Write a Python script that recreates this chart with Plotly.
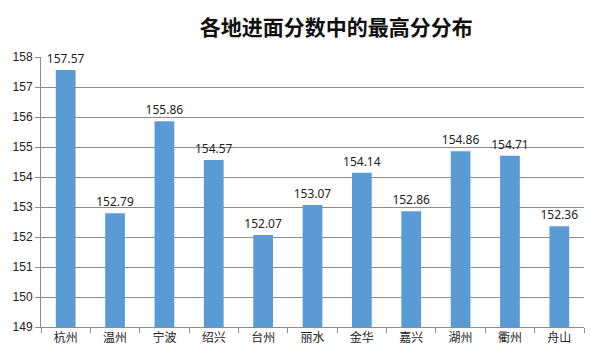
import plotly.graph_objects as go

cities = ["杭州", "温州", "宁波", "绍兴", "台州", "丽水", "金华", "嘉兴", "湖州", "衢州", "舟山"]
scores = [157.57, 152.79, 155.86, 154.57, 152.07, 153.07, 154.14, 152.86, 154.86, 154.71, 152.36]
y_ticks = list(range(149, 159))

fig = go.Figure(go.Bar(
    x=cities, y=scores,
    marker=dict(color="#5B9BD5", line=dict(width=0)),
    text=[f"{v:.2f}" for v in scores],
    textposition="outside",
    constraintext="none",
    textfont=dict(family="Noto Sans, Liberation Sans, sans-serif", size=12, color="#222"),
    cliponaxis=False,
    hoverinfo="skip",
))

fig.update_layout(
    width=591, height=362,
    margin=dict(l=41, r=7, t=57, b=35, autoexpand=False),
    paper_bgcolor="white", plot_bgcolor="white",
    bargap=0.6,
    showlegend=False,
    title=dict(text="<b>各地进面分数中的最高分分布</b>", x=0.569, xanchor="center", y=0.925, yanchor="middle",
               font=dict(family="Noto Sans CJK SC", size=21, color="#111")),
    font=dict(family="Noto Sans CJK SC, sans-serif", size=12, color="#222"),
)
fig.update_yaxes(range=[149, 158], tickvals=y_ticks, showgrid=True, gridcolor="#8c8c8c", gridwidth=1,
                 showline=True, linecolor="#8c8c8c", ticks="outside", ticklen=5, tickcolor="#8c8c8c",
                 tickfont=dict(family="Liberation Sans, sans-serif", size=12, color="#222"), zeroline=False,
                 automargin=False)
fig.update_xaxes(showline=True, linecolor="#8c8c8c", ticks="outside", tickson="boundaries", ticklen=5,
                 tickcolor="#8c8c8c", tickfont=dict(family="Noto Sans CJK SC", size=12, color="#222"),
                 automargin=False)

fig.write_html("out.html", config={"displayModeBar": False},
               post_script="document.body.style.margin='0';document.body.style.overflow='hidden';")
